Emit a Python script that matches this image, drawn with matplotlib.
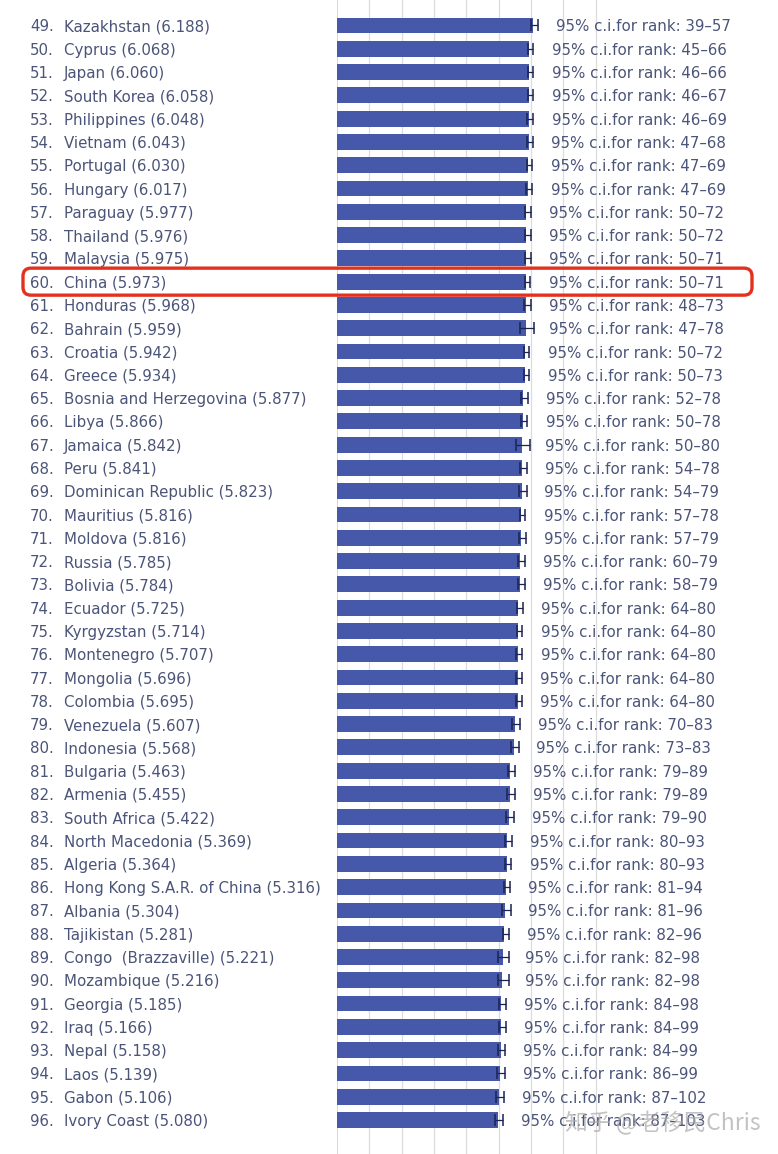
import numpy as np
import matplotlib
matplotlib.use("Agg")
from matplotlib import pyplot as plt
from matplotlib import transforms
from matplotlib.patches import FancyBboxPatch

ranks = list(range(49, 97))
countries = ["Kazakhstan", "Cyprus", "Japan", "South Korea", "Philippines", "Vietnam",
             "Portugal", "Hungary", "Paraguay", "Thailand", "Malaysia", "China",
             "Honduras", "Bahrain", "Croatia", "Greece", "Bosnia and Herzegovina", "Libya",
             "Jamaica", "Peru", "Dominican Republic", "Mauritius", "Moldova", "Russia",
             "Bolivia", "Ecuador", "Kyrgyzstan", "Montenegro", "Mongolia", "Colombia",
             "Venezuela", "Indonesia", "Bulgaria", "Armenia", "South Africa", "North Macedonia",
             "Algeria", "Hong Kong S.A.R. of China", "Albania", "Tajikistan", "Congo  (Brazzaville)",
             "Mozambique", "Georgia", "Iraq", "Nepal", "Laos", "Gabon", "Ivory Coast"]
scores = [6.188, 6.068, 6.060, 6.058, 6.048, 6.043, 6.030, 6.017, 5.977, 5.976, 5.975, 5.973,
          5.968, 5.959, 5.942, 5.934, 5.877, 5.866, 5.842, 5.841, 5.823, 5.816, 5.816, 5.785,
          5.784, 5.725, 5.714, 5.707, 5.696, 5.695, 5.607, 5.568, 5.463, 5.455, 5.422, 5.369,
          5.364, 5.316, 5.304, 5.281, 5.221, 5.216, 5.185, 5.166, 5.158, 5.139, 5.106, 5.080]
# half width of the 95% interval of the score (read from the whiskers)
ci_half = [0.10, 0.08, 0.08, 0.08, 0.10, 0.09, 0.09, 0.09, 0.10, 0.10, 0.09, 0.08,
           0.12, 0.22, 0.09, 0.09, 0.10, 0.10, 0.22, 0.10, 0.12, 0.09, 0.10, 0.10,
           0.10, 0.10, 0.09, 0.10, 0.10, 0.10, 0.12, 0.12, 0.12, 0.12, 0.13, 0.10,
           0.10, 0.10, 0.13, 0.09, 0.17, 0.17, 0.10, 0.11, 0.11, 0.12, 0.13, 0.13]
rank_lo = [39, 45, 46, 46, 46, 47, 47, 47, 50, 50, 50, 50, 48, 47, 50, 50, 52, 50, 50, 54,
           54, 57, 57, 60, 58, 64, 64, 64, 64, 64, 70, 73, 79, 79, 79, 80, 80, 81, 81, 82,
           82, 82, 84, 84, 84, 86, 87, 87]
rank_hi = [57, 66, 66, 67, 69, 68, 69, 69, 72, 72, 71, 71, 73, 78, 72, 73, 78, 78, 80, 78,
           79, 78, 79, 79, 79, 80, 80, 80, 80, 80, 83, 83, 89, 89, 90, 93, 93, 94, 96, 96,
           98, 98, 98, 99, 99, 99, 102, 103]
highlight = "China"

W, H = 778, 1154
fig = plt.figure(figsize=(W / 100, H / 100), dpi=100)
ax = fig.add_axes([337 / W, 0, 1 - 337 / W, 1])

y = np.arange(len(scores))
ax.barh(y, scores, height=0.68, left=0, color="#4558a9", zorder=2)
ax.errorbar(np.array(scores) + 0.04, y, xerr=ci_half, fmt="none", ecolor="#1b2352",
            elinewidth=0.9, capsize=4.5, capthick=1.1, zorder=3)

# light vertical grid
for k in range(1, 9):
    ax.axvline(k * 1.02, color="#dcdcdc", lw=0.9, zorder=1)
ax.axvline(0, color="#cfcfcf", lw=1.2, zorder=1)

ax.set_xlim(0, (W - 337) / 31.7)
ax.set_ylim(47 + 34 / 23.3, -25.5 / 23.3)
ax.axis("off")

txtcol = "#4b5479"
fs = 10.8
tr = transforms.blended_transform_factory(fig.transFigure, ax.transData)
for i in range(len(scores)):
    ax.text(30 / W, i, "%d." % ranks[i], transform=tr, ha="left", va="center_baseline",
            fontsize=fs, color=txtcol)
    ax.text(64 / W, i, "%s (%.3f)" % (countries[i], scores[i]), transform=tr,
            ha="left", va="center_baseline", fontsize=fs, color=txtcol)
    ax.text(scores[i] + 0.72, i, "95%% c.i.for rank: %d\u2013%d" % (rank_lo[i], rank_hi[i]),
            ha="left", va="center_baseline", fontsize=fs, color=txtcol, zorder=4)

# red frame around the highlighted row
hi = countries.index(highlight)
top = ax.transData.transform((0, hi - 0.58))[1]
bot = ax.transData.transform((0, hi + 0.58))[1]
box = FancyBboxPatch((23, bot), 729, top - bot, boxstyle="round,pad=0,rounding_size=8",
                     transform=transforms.IdentityTransform(), fill=False,
                     edgecolor="#e2321f", lw=2.4, zorder=10)
fig.add_artist(box)

fig.text(565 / W, 1 - 1123 / H, "知乎 @老移民Chris", fontsize=16.5,
         family=["Noto Sans CJK SC", "DejaVu Sans"], color="#a9a9a9", alpha=0.7,
         ha="left", va="center", zorder=11)

fig.savefig("out.png", dpi=100)
